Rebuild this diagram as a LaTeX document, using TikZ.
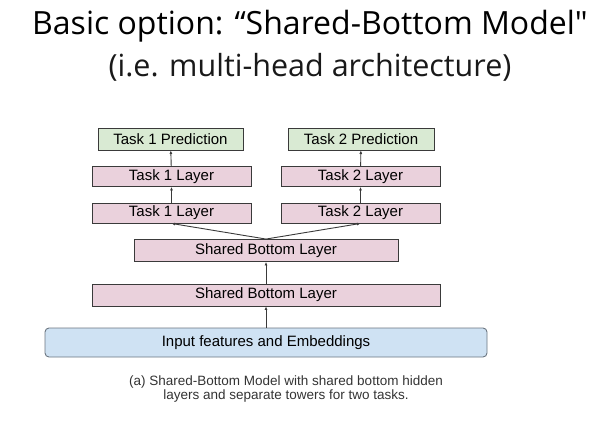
\documentclass[tikz,border=0pt]{standalone}
\usepackage{fontspec}
\setmainfont{Liberation Sans}
\newfontfamily\titlefont{Open Sans}
\usepackage{xcolor}
\usepackage{tikz}
\usetikzlibrary{arrows}
\usetikzlibrary{arrows.meta}
\usetikzlibrary{positioning}
\tikzset{>={Latex[length=3.5pt,width=3pt]}}
\definecolor{layerpink}{HTML}{EAD1DC}
\definecolor{predgreen}{HTML}{D9EAD3}
\definecolor{inputblue}{HTML}{CFE2F3}
\definecolor{boxline}{HTML}{3A3A3A}
\definecolor{inputline}{HTML}{6B7580}
\tikzstyle{layer} = [rectangle, draw=boxline, fill=layerpink, line width=0.9pt, inner sep=0pt, font=\fontsize{15}{17}\selectfont]
\tikzstyle{pred} = [rectangle, draw=boxline, fill=predgreen, line width=0.9pt, inner sep=0pt, font=\fontsize{15}{17}\selectfont]
\tikzstyle{flow} = [->, draw=boxline, line width=0.9pt]

\begin{document}
\begin{tikzpicture}[x=1pt, y=-1pt]
\useasboundingbox (0,0) rectangle (604,424);
\node [anchor=base, font=\titlefont\fontsize{32}{36}\selectfont] (T) at (310, 34) {Basic option: “Shared-Bottom Model"};
\node [anchor=base, font=\titlefont\fontsize{30.5}{34}\selectfont, text=black!90] (ST) at (310, 76) {(i.e. multi-head architecture)};
\node [pred, minimum width=145pt, minimum height=22pt] (P1) at (170.5, 139) {Task 1 Prediction};
\node [pred, minimum width=146pt, minimum height=22pt] (P2) at (361, 139) {Task 2 Prediction};
\node [layer, minimum width=159pt, minimum height=20pt] (T1a) at (171.5, 176.5) {Task 1 Layer};
\node [layer, minimum width=159pt, minimum height=20pt] (T2a) at (360.5, 176.5) {Task 2 Layer};
\node [layer, minimum width=159pt, minimum height=20pt] (T1b) at (171.5, 213) {Task 1 Layer};
\node [layer, minimum width=159pt, minimum height=20pt] (T2b) at (360.5, 213) {Task 2 Layer};
\node [layer, minimum width=264pt, minimum height=22pt] (SB2) at (266, 250.5) {Shared Bottom Layer};
\node [layer, minimum width=348pt, minimum height=22pt] (SB1) at (266, 295) {Shared Bottom Layer};
\node [rectangle, rounded corners=4pt, draw=inputline, fill=inputblue, line width=0.9pt, minimum width=442pt, minimum height=29pt, font=\fontsize{15}{17}\selectfont] (IN) at (266, 342.5) {Input features and Embeddings};
\node [align=center, text=black!80, font=\fontsize{13.5}{14.5}\selectfont] (CAP) at (286, 389) {(a) Shared-Bottom Model with shared bottom hidden\\layers and separate towers for two tasks.};
\draw [flow] (IN) to (SB1);
\draw [flow] (SB1) to (SB2);
\draw [flow] (SB2.north) to (T1b.south);
\draw [flow] (SB2.north) to (T2b.south);
\draw [flow] (T1b) to (T1a);
\draw [flow] (T2b) to (T2a);
\draw [flow] (T1a) to (P1);
\draw [flow] (T2a) to (P2);
\end{tikzpicture}
\end{document}
